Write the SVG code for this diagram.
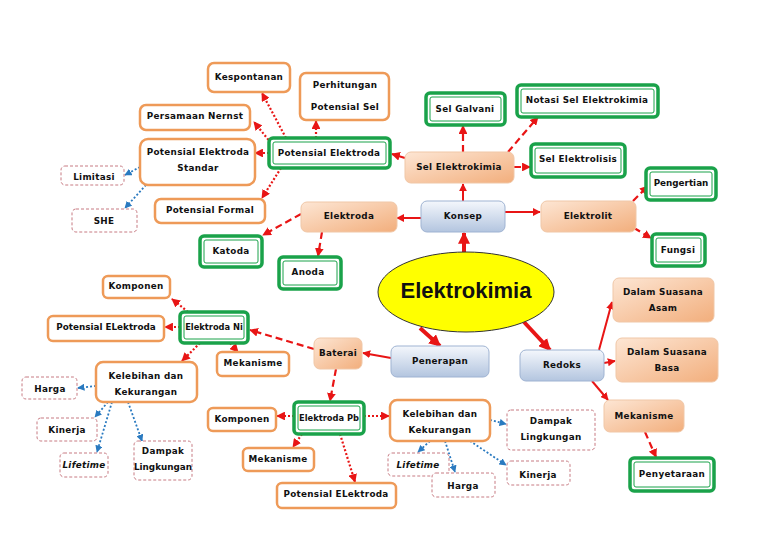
<svg xmlns="http://www.w3.org/2000/svg" width="768" height="543" viewBox="0 0 768 543">
<defs>
<linearGradient id="peach" x1="0" y1="0" x2="1" y2="1"><stop offset="0" stop-color="#fde6d4"/><stop offset="1" stop-color="#f2ae7c"/></linearGradient>
<linearGradient id="blue" x1="0" y1="0" x2="0" y2="1"><stop offset="0" stop-color="#f4f7fc"/><stop offset="1" stop-color="#b3c5df"/></linearGradient>
<marker id="ar" viewBox="0 0 10 10" refX="9" refY="5" markerWidth="4" markerHeight="4" orient="auto"><path d="M0,0L10,5L0,10z" fill="#e81515"/></marker>
<marker id="ab" viewBox="0 0 10 10" refX="9" refY="5" markerWidth="4" markerHeight="4" orient="auto"><path d="M0,0L10,5L0,10z" fill="#2a7ac0"/></marker>
<marker id="abig" viewBox="0 0 10 10" refX="9" refY="5" markerWidth="3" markerHeight="3" orient="auto"><path d="M0,0L10,5L0,10z" fill="#e81515"/></marker>
<style>
text{font-family:"DejaVu Sans",Verdana,sans-serif;font-weight:bold;font-size:8.8px;letter-spacing:0.3px;fill:#111;text-anchor:middle;dominant-baseline:central}
.o{fill:#fff;stroke:#ee9a58;stroke-width:2.5}
.g{fill:#fff;stroke:#1aa24a;stroke-width:3.5}
.gi{fill:none;stroke:#1aa24a;stroke-width:1}
.p{fill:url(#peach);stroke:#f0c7a7;stroke-width:1}
.b{fill:url(#blue);stroke:#9fb3d2;stroke-width:1}
.d{fill:#fff;stroke:#c77a82;stroke-width:1;stroke-dasharray:3,2}
.rs{stroke:#e81515;stroke-width:2;fill:none;marker-end:url(#ar)}
.rd{stroke:#e81515;stroke-width:2.2;fill:none;stroke-dasharray:7,4;marker-end:url(#ar)}
.rp{stroke:#e81515;stroke-width:2.2;fill:none;stroke-dasharray:2,2;marker-end:url(#ar)}
.bp{stroke:#2a7ac0;stroke-width:1.8;fill:none;stroke-dasharray:2,2;marker-end:url(#ab)}
.big{stroke:#e81515;stroke-width:4;fill:none;marker-end:url(#abig)}
</style>
</defs>
<g id="connectors">
<line class="big" x1="464" y1="252" x2="464" y2="233"/>
<line class="big" x1="420" y1="328" x2="440" y2="346"/>
<line class="big" x1="524" y1="322" x2="550" y2="350"/>
<line class="rs" x1="463" y1="201" x2="463" y2="184"/>
<line class="rs" x1="421" y1="218" x2="397" y2="218"/>
<line class="rs" x1="505" y1="212" x2="540" y2="212"/>
<line class="rs" x1="599" y1="350" x2="612" y2="302"/>
<line class="rs" x1="604" y1="363" x2="615" y2="361"/>
<line class="rs" x1="592" y1="381" x2="608" y2="400"/>
<line class="rs" x1="391" y1="358" x2="363" y2="353"/>
<line class="rd" x1="463" y1="152" x2="463" y2="126"/>
<line class="rd" x1="508" y1="152" x2="538" y2="117"/>
<line class="rd" x1="514" y1="167" x2="530" y2="167"/>
<line class="rd" x1="405" y1="158" x2="392" y2="154"/>
<line class="rd" x1="633" y1="201" x2="648" y2="186"/>
<line class="rd" x1="634" y1="228" x2="651" y2="238"/>
<line class="rd" x1="301" y1="214" x2="263" y2="235"/>
<line class="rd" x1="322" y1="232" x2="318" y2="256"/>
<line class="rd" x1="314" y1="349" x2="250" y2="330"/>
<line class="rd" x1="336" y1="369" x2="330" y2="401"/>
<line class="rd" x1="645" y1="432" x2="656" y2="457"/>
<line class="rp" x1="286" y1="138" x2="262" y2="93"/>
<line class="rp" x1="316" y1="138" x2="316" y2="121"/>
<line class="rp" x1="271" y1="143" x2="254" y2="122"/>
<line class="rp" x1="269" y1="153" x2="255" y2="153"/>
<line class="rp" x1="281" y1="168" x2="262" y2="198"/>
<line class="rp" x1="180" y1="327" x2="165" y2="327"/>
<line class="rp" x1="188" y1="312" x2="172" y2="299"/>
<line class="rp" x1="200" y1="343" x2="182" y2="361"/>
<line class="rp" x1="230" y1="343" x2="238" y2="352"/>
<line class="rp" x1="294" y1="416" x2="277" y2="416"/>
<line class="rp" x1="302" y1="434" x2="293" y2="447"/>
<line class="rp" x1="340" y1="434" x2="355" y2="482"/>
<line class="rp" x1="364" y1="416" x2="389" y2="416"/>
<line class="bp" x1="140" y1="167" x2="125" y2="175"/>
<line class="bp" x1="146" y1="185" x2="125" y2="208"/>
<line class="bp" x1="96" y1="386" x2="78" y2="388"/>
<line class="bp" x1="108" y1="402" x2="95" y2="417"/>
<line class="bp" x1="112" y1="402" x2="97" y2="452"/>
<line class="bp" x1="128" y1="402" x2="142" y2="441"/>
<line class="bp" x1="490" y1="420" x2="506" y2="424"/>
<line class="bp" x1="430" y1="441" x2="418" y2="452"/>
<line class="bp" x1="445" y1="441" x2="455" y2="472"/>
<line class="bp" x1="470" y1="441" x2="506" y2="465"/>
</g>
<g id="elektrokimia"><ellipse cx="466" cy="292" rx="88" ry="40" fill="#ffff00" stroke="#333" stroke-width="1"/><text x="466" y="290" style="font-family:'Liberation Sans',Arial,sans-serif;font-size:22px;letter-spacing:0">Elektrokimia</text></g>
<g id="konsep"><rect class="b" x="421" y="201" width="84" height="31" rx="6"/><text x="463" y="216">Konsep</text></g>
<g id="penerapan"><rect class="b" x="391" y="346" width="98" height="31" rx="6"/><text x="440" y="361">Penerapan</text></g>
<g id="redoks"><rect class="b" x="520" y="350" width="84" height="31" rx="6"/><text x="562" y="365">Redoks</text></g>
<g id="sel-elektrokimia"><rect class="p" x="405" y="152" width="109" height="31" rx="6"/><text x="459" y="167">Sel Elektrokimia</text></g>
<g id="elektroda"><rect class="p" x="301" y="202" width="96" height="30" rx="6"/><text x="349" y="216">Elektroda</text></g>
<g id="elektrolit"><rect class="p" x="541" y="201" width="95" height="31" rx="6"/><text x="588" y="216">Elektrolit</text></g>
<g id="asam"><rect class="p" x="613" y="278" width="101" height="44" rx="6"/><text x="663" y="292">Dalam Suasana</text><text x="663" y="308">Asam</text></g>
<g id="basa"><rect class="p" x="616" y="338" width="102" height="44" rx="6"/><text x="667" y="352">Dalam Suasana</text><text x="667" y="368">Basa</text></g>
<g id="mekanisme-r"><rect class="p" x="604" y="400" width="80" height="32" rx="6"/><text x="644" y="416">Mekanisme</text></g>
<g id="baterai"><rect class="p" x="314" y="338" width="48" height="31" rx="6"/><text x="338" y="353">Baterai</text></g>
<g id="sel-galvani"><rect class="g" x="426" y="93" width="79" height="32" rx="4"/><rect class="gi" x="430" y="97" width="71" height="24" rx="2"/><text x="465" y="109">Sel Galvani</text></g>
<g id="notasi"><rect class="g" x="517" y="85" width="141" height="32" rx="4"/><rect class="gi" x="521" y="89" width="133" height="24" rx="2"/><text x="587" y="100">Notasi Sel Elektrokimia</text></g>
<g id="sel-elektrolisis"><rect class="g" x="531" y="144" width="94" height="33" rx="4"/><rect class="gi" x="535" y="148" width="86" height="25" rx="2"/><text x="578" y="159">Sel Elektrolisis</text></g>
<g id="pengertian"><rect class="g" x="646" y="168" width="70" height="32" rx="4"/><rect class="gi" x="650" y="172" width="62" height="24" rx="2"/><text x="681" y="183" style="letter-spacing:0">Pengertian</text></g>
<g id="fungsi"><rect class="g" x="652" y="234" width="53" height="32" rx="4"/><rect class="gi" x="656" y="238" width="45" height="24" rx="2"/><text x="678" y="250">Fungsi</text></g>
<g id="penyetaraan"><rect class="g" x="630" y="458" width="84" height="33" rx="4"/><rect class="gi" x="634" y="462" width="76" height="25" rx="2"/><text x="672" y="474">Penyetaraan</text></g>
<g id="potensial-elektroda"><rect class="g" x="269" y="138" width="121" height="30" rx="4"/><rect class="gi" x="273" y="142" width="113" height="22" rx="2"/><text x="329" y="153">Potensial Elektroda</text></g>
<g id="katoda"><rect class="g" x="200" y="236" width="62" height="31" rx="4"/><rect class="gi" x="204" y="240" width="54" height="23" rx="2"/><text x="231" y="251">Katoda</text></g>
<g id="anoda"><rect class="g" x="279" y="257" width="62" height="32" rx="4"/><rect class="gi" x="283" y="261" width="54" height="24" rx="2"/><text x="308" y="272">Anoda</text></g>
<g id="elektroda-ni"><rect class="g" x="180" y="312" width="68" height="31" rx="4"/><rect class="gi" x="184" y="316" width="60" height="23" rx="2"/><text x="214" y="327" style="letter-spacing:0;font-size:8.3px">Elektroda Ni</text></g>
<g id="elektroda-pb"><rect class="g" x="294" y="402" width="70" height="32" rx="4"/><rect class="gi" x="298" y="406" width="62" height="24" rx="2"/><text x="329" y="418" style="letter-spacing:0;font-size:8.3px">Elektroda Pb</text></g>
<g id="kespontanan"><rect class="o" x="208" y="63" width="82" height="29" rx="6"/><text x="249" y="77">Kespontanan</text></g>
<g id="perhitungan"><rect class="o" x="300" y="73" width="89" height="47" rx="6"/><text x="345" y="85">Perhitungan</text><text x="345" y="107">Potensial Sel</text></g>
<g id="nernst"><rect class="o" x="140" y="105" width="110" height="25" rx="6"/><text x="195" y="116">Persamaan Nernst</text></g>
<g id="pe-standar"><rect class="o" x="140" y="139" width="115" height="46" rx="8"/><text x="198" y="152">Potensial Elektroda</text><text x="198" y="168">Standar</text></g>
<g id="potensial-formal"><rect class="o" x="155" y="199" width="110" height="24" rx="6"/><text x="210" y="210">Potensial Formal</text></g>
<g id="limitasi"><rect class="d" x="61" y="166" width="63" height="19" rx="4"/><text x="94" y="177">Limitasi</text></g>
<g id="she"><rect class="d" x="72" y="209" width="65" height="23" rx="4"/><text x="104" y="221">SHE</text></g>
<g id="komponen-ni"><rect class="o" x="103" y="276" width="67" height="22" rx="5"/><text x="136" y="286">Komponen</text></g>
<g id="pe-ni"><rect class="o" x="48" y="316" width="116" height="25" rx="5"/><text x="106" y="327" style="letter-spacing:0">Potensial ELektroda</text></g>
<g id="mekanisme-ni"><rect class="o" x="217" y="352" width="72" height="24" rx="5"/><text x="253" y="363">Mekanisme</text></g>
<g id="kk-ni"><rect class="o" x="96" y="362" width="101" height="40" rx="7"/><text x="146" y="376">Kelebihan dan</text><text x="146" y="392">Kekurangan</text></g>
<g id="harga-ni"><rect class="d" x="22" y="377" width="55" height="22" rx="4"/><text x="50" y="389">Harga</text></g>
<g id="kinerja-ni"><rect class="d" x="37" y="418" width="60" height="23" rx="4"/><text x="67" y="430">Kinerja</text></g>
<g id="lifetime-ni"><rect class="d" x="60" y="453" width="48" height="24" rx="4"/><text x="84" y="465" font-style="italic">Lifetime</text></g>
<g id="dampak-ni"><rect class="d" x="134" y="441" width="58" height="39" rx="4"/><text x="163" y="451">Dampak</text><text x="163" y="467" style="letter-spacing:0">Lingkungan</text></g>
<g id="komponen-pb"><rect class="o" x="208" y="408" width="68" height="23" rx="5"/><text x="242" y="419">Komponen</text></g>
<g id="mekanisme-pb"><rect class="o" x="243" y="448" width="71" height="23" rx="5"/><text x="278" y="459">Mekanisme</text></g>
<g id="pe-pb"><rect class="o" x="277" y="483" width="119" height="25" rx="5"/><text x="336" y="494">Potensial ELektroda</text></g>
<g id="kk-pb"><rect class="o" x="390" y="400" width="100" height="41" rx="7"/><text x="440" y="414">Kelebihan dan</text><text x="440" y="430">Kekurangan</text></g>
<g id="dampak-pb"><rect class="d" x="507" y="410" width="88" height="40" rx="4"/><text x="551" y="421">Dampak</text><text x="551" y="437">Lingkungan</text></g>
<g id="lifetime-pb"><rect class="d" x="388" y="453" width="61" height="23" rx="4"/><text x="418" y="465" font-style="italic">Lifetime</text></g>
<g id="harga-pb"><rect class="d" x="432" y="473" width="63" height="24" rx="4"/><text x="463" y="486">Harga</text></g>
<g id="kinerja-pb"><rect class="d" x="507" y="461" width="63" height="24" rx="4"/><text x="538" y="475">Kinerja</text></g>
</svg>
